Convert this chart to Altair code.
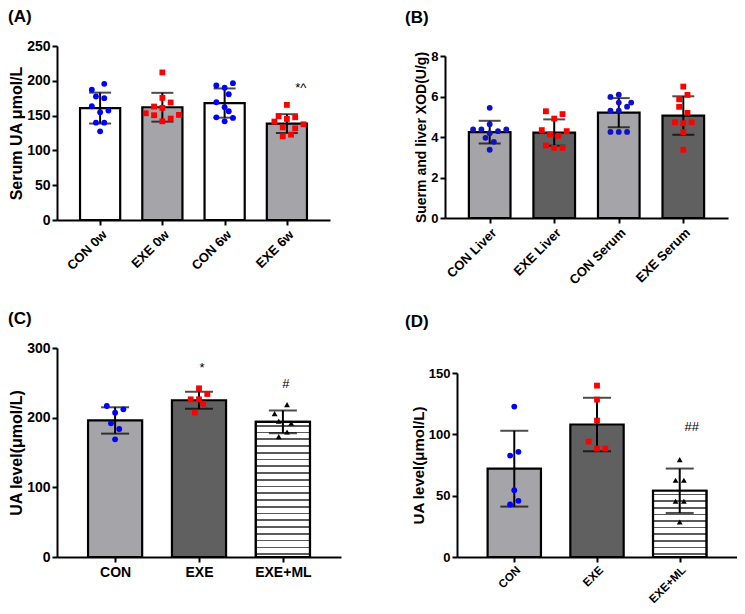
import altair as alt
import pandas as pd

FONT = "Liberation Sans"

# ---------------- Panel A : serum UA ----------------
A_groups = ["CON 0w", "EXE 0w", "CON 6w", "EXE 6w"]
A_mean = [160.8, 162.0, 168.0, 138.5]
A_sd = [22.2, 20.7, 21.0, 13.5]
A_vals = [
    [187.1, 195.7, 177.4, 175.0, 163.4, 154.8, 157.2, 139.9, 139.9, 127.4],
    [212.0, 175.5, 168.8, 163.0, 161.1, 153.4, 150.5, 151.0, 141.8, 145.7],
    [193.3, 190.0, 196.6, 180.7, 169.2, 162.0, 156.2, 147.5, 141.8, 146.7],
    [165.4, 149.0, 145.2, 147.6, 141.4, 137.5, 133.1, 131.7, 120.2, 122.6],
]
A_slots = [
    [-2, 1, -1, 1, -2, 0, 2, -1, 1, 0],
    [0, 0, 2, -2, 0, -4, -2, 4, 0, 2],
    [-2, 0, 2, 1, -2, 0, 1, -2, 0, 2],
    [0, -2, 0, 2, -3, 4, -1, 2, -1, 1],
]
A_ann = [("EXE 6w", 190, "*^")]

# ---------------- Panel B : XOD ----------------
B_groups = ["CON Liver", "EXE Liver", "CON Serum", "EXE Serum"]
B_mean = [4.24, 4.22, 5.20, 5.06]
B_sd = [0.56, 0.65, 0.72, 0.95]
B_vals = [
    [5.44, 4.37, 4.37, 4.63, 4.29, 4.37, 4.19, 3.96, 3.76, 3.37],
    [5.27, 5.13, 4.91, 4.34, 4.29, 4.12, 4.06, 3.58, 3.46, 3.46],
    [5.98, 6.09, 5.70, 5.50, 5.70, 5.30, 5.30, 4.25, 4.25, 4.25],
    [6.49, 6.08, 5.86, 5.49, 5.19, 4.73, 4.68, 4.73, 4.24, 3.37],
]
B_slots = [
    [0, -4, -2, 0, 2, 4, 0, -1, 1, 0],
    [-2, 2, 0, -3, 3, -1, 1, -2, 0, 2],
    [-2, 0, 0, 2, 3, -2, 0, -2, 0, 2],
    [0, 1, -1, -1, 1, -2, 0, 2, 0, 0],
]
B_ann = []

# ---------------- Panel C : UA level ----------------
C_groups = ["CON", "EXE", "EXE+ML"]
C_mean = [196.0, 225.0, 194.0]
C_sd = [18.9, 12.2, 16.3]
C_vals = [
    [216.7, 212.0, 207.2, 191.9, 183.7, 168.9],
    [242.1, 234.0, 226.3, 226.3, 220.1, 207.2],
    [218.7, 205.8, 194.8, 191.9, 179.4, 172.8],
]
C_slots = [
    [-2, 2, 0, -1, 1, 0],
    [0, 2, -2, 0, 1, -1],
    [1, -2, -1, 2, 1, -1],
]
C_ann = [("EXE", 271, "*"), ("EXE+ML", 248, "#")]

# ---------------- Panel D : UA level ----------------
D_groups = ["CON", "EXE", "EXE+ML"]
D_mean = [72.0, 108.0, 54.0]
D_sd = [30.9, 21.8, 18.1]
D_vals = [
    [122.6, 82.7, 85.7, 54.5, 42.8, 45.8],
    [139.7, 128.3, 111.2, 94.1, 88.4, 88.4],
    [79.4, 62.5, 62.5, 45.4, 45.4, 28.5],
]
D_slots = [
    [0, -1, 1, 0, -1, 1],
    [0, 0, 0, -2, 0, 2],
    [0, -1, 1, -1, 1, 0],
]
D_ann = [("EXE+ML", 105.7, "##")]

LIGHT = "#a4a4a9"
DARK = "#606060"
BLUE = "#0000ff"
RED = "#ff0000"

HALF_BAR = 0.3225   # half bar width, in category steps
OUTER = 0.6925      # distance from first/last centre to the axis end, in steps


def stripe_gradient(n, color="#5a5a5a", lw=0.24, start=0.45):
    stops = [alt.GradientStop(offset=0, color="white")]
    p = 1.0 / n
    for i in range(n):
        a = i * p + start * p
        b = a + lw * p
        stops += [
            alt.GradientStop(offset=a, color="white"),
            alt.GradientStop(offset=a, color=color),
            alt.GradientStop(offset=b, color=color),
            alt.GradientStop(offset=b, color="white"),
        ]
    stops.append(alt.GradientStop(offset=1, color="white"))
    return alt.Gradient(gradient="linear", x1=0, y1=0, x2=0, y2=1, stops=stops)


def panel(groups, means, sds, vals, slots, ann, *, fills, colors, shapes,
          ymax, ystep, ytitle, angle, w, h, top, letter, toff, tdx, cap,
          fs_tick, fs_xlab, fs_title, ann_dx, stripes=None, psize=34,
          unit=4.15, xlpad=3):
    n = len(groups)
    step_px = w / (n - 1 + 2 * OUTER)
    k = unit / step_px
    bars = pd.DataFrame({"group": groups, "idx": list(range(n)), "mean": means, "sd": sds})
    rows = []
    for i, (g, vs, ss) in enumerate(zip(groups, vals, slots)):
        for v, s in zip(vs, ss):
            rows.append({"group": g, "idx": i, "value": v, "slot": s})
    pts = pd.DataFrame(rows)

    names = "[" + ",".join("'" + g + "'" for g in groups) + "]"
    xscale = alt.Scale(domain=[-OUTER, n - 1 + OUTER], nice=False, zero=False, padding=0)
    xaxis = alt.Axis(
        title=None, values=list(range(n)), labelExpr=names + "[datum.value]",
        labelAngle=angle, grid=False, domainColor="black", domainWidth=2,
        tickColor="black", tickWidth=2, tickSize=5, labelPadding=xlpad,
        labelFont=FONT, labelFontWeight="bold", labelFontSize=fs_xlab,
        labelColor="black", labelFlush=False, labelOverlap=False,
        **({"labelAlign": "right", "labelBaseline": "top"} if angle else {"labelAlign": "center"}),
    )
    yscale = alt.Scale(domain=[0, ymax], nice=False, zero=True, padding=0, range=[h, top])
    tick_vals = [ystep * i for i in range(int(round(ymax / ystep)) + 1)]
    yaxis = alt.Axis(
        title=ytitle, values=tick_vals, grid=False, domainColor="black",
        domainWidth=2, tickColor="black", tickWidth=2, tickSize=5,
        labelPadding=2, labelFont=FONT, labelFontWeight="bold",
        labelFontSize=fs_tick, labelColor="black", titleFont=FONT,
        titleFontWeight="bold", titleFontSize=fs_title, titleColor="black",
        titlePadding=2, labelFlush=False, labelOverlap=False,
    )

    def X(f):
        return alt.X(f, scale=xscale, axis=xaxis)

    def Y(f):
        return alt.Y(f, scale=yscale, axis=yaxis)

    base = alt.Chart(bars).transform_calculate(
        x0="datum.idx - %f" % HALF_BAR, x1="datum.idx + %f" % HALF_BAR,
        lo="datum.mean - datum.sd", hi="datum.mean + datum.sd", zero="0")

    layers = [
        base.mark_bar(stroke="black", strokeWidth=2.2).encode(
            x=X("x0:Q"), x2="x1:Q", y=Y("mean:Q"), y2="zero:Q",
            fill=alt.Fill("group:N", scale=alt.Scale(domain=groups, range=fills), legend=None),
        )
    ]
    if stripes:
        sg, ns = stripes
        layers.append(
            base.transform_filter(alt.datum.group == sg)
            .mark_bar(fill=stripe_gradient(ns), stroke="black", strokeWidth=2.2)
            .encode(x=X("x0:Q"), x2="x1:Q", y=Y("mean:Q"), y2="zero:Q")
        )
    layers.append(base.mark_rule(color="black", strokeWidth=2).encode(
        x=X("idx:Q"), y=Y("lo:Q"), y2="hi:Q"))
    for f in ("lo", "hi"):
        layers.append(base.mark_tick(color="black", thickness=2, size=cap, orient="horizontal").encode(
            x=X("idx:Q"), y=Y(f + ":Q")))
    layers.append(
        alt.Chart(pts).transform_calculate(px="datum.idx + datum.slot * %f" % k)
        .mark_point(filled=True, opacity=1, size=psize, strokeWidth=0).encode(
            x=X("px:Q"),
            y=Y("value:Q"),
            color=alt.Color("group:N", scale=alt.Scale(domain=groups, range=colors), legend=None),
            shape=alt.Shape("group:N", scale=alt.Scale(domain=groups, range=shapes), legend=None),
        )
    )
    if ann:
        adf = pd.DataFrame({"idx": [groups.index(a[0]) for a in ann], "yv": [a[1] for a in ann],
                            "label": [a[2] for a in ann]})
        layers.append(
            alt.Chart(adf).mark_text(font=FONT, fontSize=13, color="black", dx=ann_dx,
                                     baseline="middle", align="center").encode(
                x=X("idx:Q"), y=Y("yv:Q"), text="label:N")
        )
    return alt.layer(*layers).properties(
        width=w, height=h,
        title=alt.TitleParams(letter, anchor="start", frame="group", font=FONT,
                              fontSize=17, fontWeight="bold", color="black",
                              offset=toff, dx=tdx),
    )


A = panel(A_groups, A_mean, A_sd, A_vals, A_slots, A_ann,
          fills=["white", LIGHT, "white", LIGHT], colors=[BLUE, RED, BLUE, RED],
          shapes=["circle", "square", "circle", "square"], ymax=250, ystep=50,
          ytitle="Serum UA μmol/L", angle=-45, w=273, h=174, top=0, letter="(A)",
          toff=13, tdx=-49, cap=22, fs_tick=14, fs_xlab=13, fs_title=16, ann_dx=14)
B = panel(B_groups, B_mean, B_sd, B_vals, B_slots, B_ann,
          fills=[LIGHT, DARK, LIGHT, DARK], colors=["#1010c8", RED, "#1010c8", RED],
          shapes=["circle", "square", "circle", "square"], ymax=8, ystep=2,
          ytitle="Suerm and liver XOD(U/g)", angle=-45, w=283, h=172, top=10, letter="(B)",
          toff=19, tdx=-40, cap=22, fs_tick=13, fs_xlab=13, fs_title=14, ann_dx=0)
C = panel(C_groups, C_mean, C_sd, C_vals, C_slots, C_ann,
          fills=[LIGHT, DARK, "white"], colors=[BLUE, RED, "black"],
          shapes=["circle", "square", "triangle-up"], ymax=300, ystep=100,
          ytitle="UA level(μmol/L)", angle=0, w=284, h=209, top=0, letter="(C)",
          toff=13, tdx=-49, cap=28, fs_tick=14, fs_xlab=14, fs_title=16, ann_dx=3,
          stripes=("EXE+ML", 20))
D = panel(D_groups, D_mean, D_sd, D_vals, D_slots, D_ann,
          fills=[LIGHT, DARK, "white"], colors=[BLUE, RED, "black"],
          shapes=["circle", "square", "triangle-up"], ymax=150, ystep=50,
          ytitle="UA level(μmol/L)", angle=-45, w=280, h=209, top=25, letter="(D)",
          toff=17, tdx=-52, cap=28, fs_tick=13, fs_xlab=11.5, fs_title=15, ann_dx=12,
          stripes=("EXE+ML", 10), xlpad=2)

IND = dict(fill="independent", color="independent", shape="independent")
row1 = alt.hconcat(A, B, spacing=115, bounds="flush").resolve_scale(**IND)
row2 = alt.hconcat(C, D, spacing=116, bounds="flush").resolve_scale(**IND)
# with flush bounds the nested row counts no height, so the spacing holds row 1's plot height too
chart = (alt.vconcat(row1, row2, spacing=174 + 128, bounds="flush").resolve_scale(**IND)
         .properties(padding=0).configure_view(stroke=None))

chart.save("out.html", embed_options={"renderer": "svg", "actions": False})
